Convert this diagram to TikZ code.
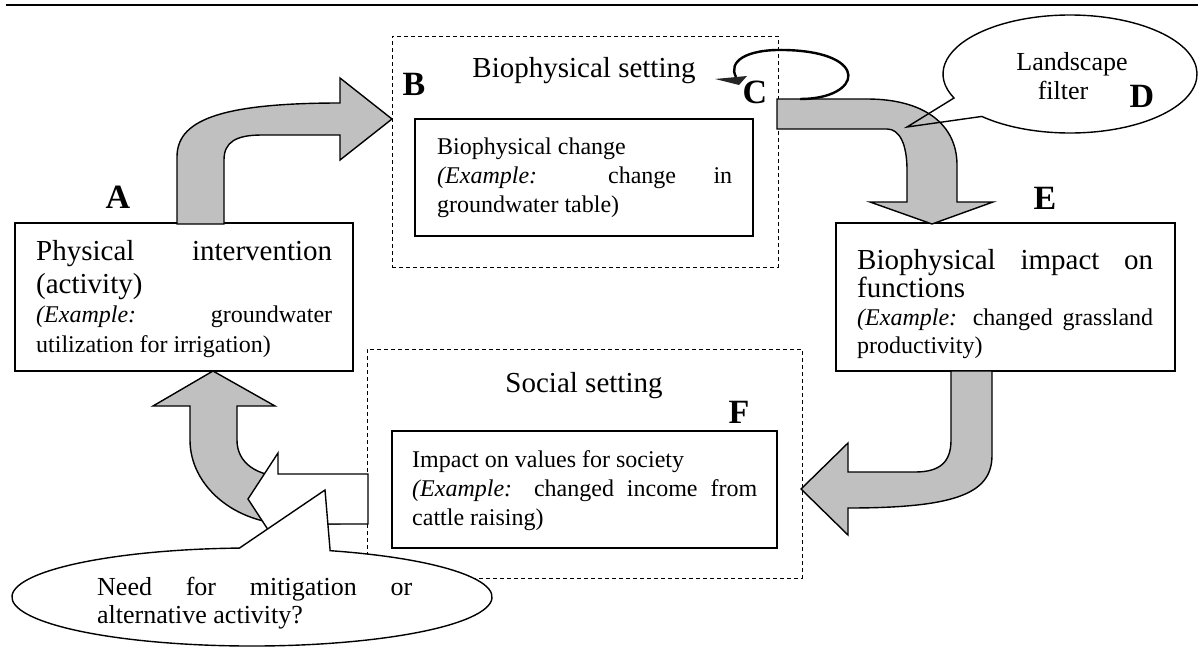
\documentclass[tikz,border=0pt]{standalone}
\usepackage{fontspec}
\setmainfont{Liberation Serif}
\usetikzlibrary{calc}
\definecolor{arrowgray}{HTML}{C0C0C0}
\newcommand\exmp{\textit{(Example:}}
\newcommand\bigtxt{\fontsize{29}{33}\selectfont}
\newcommand\smalltxt{\fontsize{24}{29}\selectfont}
\newcommand\calltxt{\fontsize{26}{28}\selectfont}
\tikzset{
  box/.style={draw, line width=1.1pt, rectangle, inner sep=0pt},
  setting/.style={draw, dash pattern=on 4pt off 3pt, line width=0.9pt, rectangle, inner sep=0pt},
  blockarrow/.style={draw, line width=1.4pt, fill=arrowgray, line join=miter},
  lbl/.style={font=\fontsize{34}{34}\selectfont\bfseries, anchor=base, inner sep=0pt},
  body/.style={anchor=base west, inner sep=0pt},
  title/.style={font=\bigtxt, anchor=base, inner sep=0pt},
}
\begin{document}
\begin{tikzpicture}[x=1pt,y=-1pt]
\useasboundingbox (0,0) rectangle (1198,648);

% rule across the top
\draw[line width=1.6pt] (6,5) -- (1198,5);

% settings and boxes
\node[setting, minimum width=386pt, minimum height=231pt] (setB) at (585,151.5) {};
\node[setting, minimum width=435pt, minimum height=229pt] (setF) at (584.5,463.5) {};
\node[box, minimum width=338pt, minimum height=148pt] (boxA) at (184,297) {};
\node[box, minimum width=338pt, minimum height=117pt] (boxB) at (584,177.5) {};
\node[box, minimum width=339pt, minimum height=148pt] (boxE) at (1005.5,297) {};
\node[box, minimum width=385pt, minimum height=117pt] (boxF) at (584.5,489.5) {};

% block arrows
% A -> B
\draw[blockarrow] (177,224) -- (177,157) .. controls (177,122) and (215,103) .. (340,103)
  -- (340,78) -- (392,119) -- (340,160) -- (340,135) -- (262,135)
  .. controls (236,135) and (224,142) .. (224,160) -- (224,224) -- cycle;
% C -> E
\draw[blockarrow] (777,99) -- (867,99) .. controls (925,99) and (957,125) .. (957,165)
  -- (957,202) -- (993,202) -- (932,224) -- (870,202) -- (907,202) -- (907,170)
  .. controls (907,145) and (900,129) .. (887,129) -- (777,129) -- cycle;
% E -> F
\draw[blockarrow] (951,371) -- (992,371) -- (992,455) .. controls (992,492) and (960,508) .. (848,508)
  -- (848,535) -- (801,489) -- (848,443) -- (848,472) -- (915,472)
  .. controls (940,472) and (951,462) .. (951,440) -- cycle;
% F -> A
\draw[blockarrow] (213,371) -- (275,406) -- (237,406) -- (237,440)
  .. controls (237,462) and (255,477) .. (290,477) -- (340,477) -- (340,524) -- (290,524)
  .. controls (235,524) and (190,486) .. (190,440) -- (190,406) -- (153,406) -- cycle;

% feedback loop at C
\coordinate (loopstart) at (800,99);
\coordinate (loopend) at (736,77);
\draw[line width=2.4pt] (loopstart) .. controls (862,99) and (872,52) .. (785,50)
  .. controls (745,49) and (728,62) .. (loopend);
\fill[black!85] (715,79) -- (747,76) -- (739,85) -- cycle;

% white arrow leaving the social setting
\draw[line width=1.4pt, fill=white] (368,474) -- (278,474) -- (278,453) -- (248,499)
  -- (278,545) -- (278,524) -- (368,524) -- cycle;

% callout D
\coordinate (cd) at (1070,74);
\coordinate (tipD) at (907,127);
\draw[line width=1.4pt] (tipD) -- ($(cd)+(134:127 and 59)$)
  arc[start angle=134, end angle=-204, x radius=127, y radius=59] -- cycle;

% callout for mitigation
\coordinate (cm) at (252,597);
\coordinate (tipM) at (325,490);
\draw[line width=1.4pt, fill=white] (tipM) -- ($(cm)+(-71:240 and 49)$)
  arc[start angle=-71, end angle=267, x radius=240, y radius=49] -- cycle;

% titles
\node[title] (tB) at (584,77) {Biophysical setting};
\node[title] (tF) at (584,392) {Social setting};

% letters
\node[lbl] (lA) at (118,208) {A};
\node[lbl] (lB) at (414,95) {B};
\node[lbl] (lC) at (755,103) {C};
\node[lbl] (lD) at (1142,107) {D};
\node[lbl] (lE) at (1045,209) {E};
\node[lbl] (lF) at (739,423) {F};

% box texts
\node[body] (txtA) at (36,260) {\begin{minipage}[t]{296pt}\parskip=0pt
  \bigtxt\makebox[296pt][s]{Physical intervention}\par
  (activity)\par
  \fontsize{24}{29.5}\selectfont\makebox[296pt][s]{\exmp{} groundwater}\par
  utilization for irrigation)\end{minipage}};

\node[body] (txtB) at (437,154) {\begin{minipage}[t]{295pt}\parskip=0pt
  \smalltxt Biophysical change\par
  \makebox[295pt][s]{\exmp{} change in}\par
  groundwater table)\end{minipage}};

\node[body] (txtE) at (857,269) {\begin{minipage}[t]{296pt}\parskip=0pt
  \fontsize{29}{28}\selectfont\makebox[296pt][s]{Biophysical impact on}\par
  functions\par
  \fontsize{24}{28}\selectfont\makebox[296pt][s]{\exmp{} changed grassland}\par
  productivity)\end{minipage}};

\node[body] (txtF) at (412,467) {\begin{minipage}[t]{345pt}\parskip=0pt
  \smalltxt Impact on values for society\par
  \makebox[345pt][s]{\exmp{} changed income from}\par
  cattle raising)\end{minipage}};

\node[body] (txtM) at (97,595) {\begin{minipage}[t]{315pt}\parskip=0pt
  \calltxt\makebox[315pt][s]{Need for mitigation or}\par
  alternative activity?\end{minipage}};

\node[font=\calltxt, anchor=base, inner sep=0pt] (tD1) at (1072,70) {Landscape};
\node[font=\calltxt, anchor=base, inner sep=0pt] (tD2) at (1063,99) {filter};
\end{tikzpicture}
\end{document}
